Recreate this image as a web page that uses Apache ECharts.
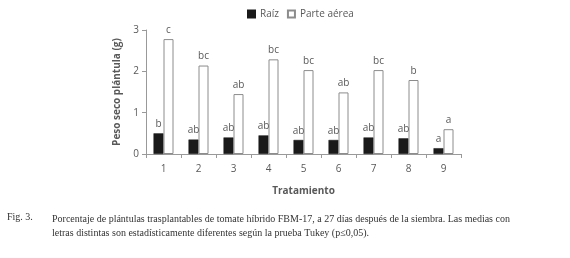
<!DOCTYPE html>
<html>
<head>
<meta charset="utf-8">
<script src="https://cdn.jsdelivr.net/npm/echarts@6/dist/echarts.min.js"></script>
<style>
html, body { margin: 0; padding: 0; background: #fff; }
#chart { width: 570px; height: 258px; }
</style>
</head>
<body>
<div id="chart"></div>
<script>
var categories = ['1', '2', '3', '4', '5', '6', '7', '8', '9'];
var raizValues = [0.50, 0.35, 0.40, 0.45, 0.34, 0.34, 0.40, 0.38, 0.14];
var aereaValues = [2.78, 2.14, 1.45, 2.29, 2.03, 1.49, 2.03, 1.79, 0.60];
var raizLetters = ['b', 'ab', 'ab', 'ab', 'ab', 'ab', 'ab', 'ab', 'a'];
var aereaLetters = ['c', 'bc', 'ab', 'bc', 'bc', 'ab', 'bc', 'b', 'a'];

var axisFont = '"Open Sans", "Noto Sans", sans-serif';
var textGray = '#595959';

var myChart = echarts.init(document.getElementById('chart'));
myChart.setOption({
    animation: false,
    grid: {
        left: 146,
        right: 109,
        top: 30,
        bottom: 104
    },
    legend: {
        top: 4,
        left: 242,
        itemWidth: 7,
        itemHeight: 7,
        itemGap: 8,
        textStyle: { color: textGray, fontSize: 10, fontFamily: axisFont },
        data: [
            { name: 'Raíz', icon: 'rect' },
            { name: 'Parte aérea', icon: 'rect' }
        ]
    },
    xAxis: {
        type: 'category',
        data: categories,
        name: 'Tratamiento',
        nameLocation: 'middle',
        nameGap: 32,
        nameTextStyle: { color: textGray, fontSize: 10, fontWeight: 'bold', fontFamily: axisFont },
        axisLine: { lineStyle: { color: '#999' } },
        axisTick: { show: true, alignWithLabel: false, length: 4, lineStyle: { color: '#999' } },
        axisLabel: { color: textGray, fontSize: 10, fontFamily: axisFont, margin: 10 }
    },
    yAxis: {
        type: 'value',
        min: 0,
        max: 3,
        interval: 1,
        name: 'Peso seco plántula (g)',
        nameLocation: 'middle',
        nameGap: 24,
        nameTextStyle: { color: textGray, fontSize: 10, fontWeight: 'bold', fontFamily: axisFont },
        axisLine: { show: true, lineStyle: { color: '#999' } },
        axisTick: { show: true, length: 4, lineStyle: { color: '#999' } },
        axisLabel: { color: textGray, fontSize: 10, fontFamily: axisFont, margin: 7 },
        splitLine: { show: false }
    },
    series: [
        {
            name: 'Raíz',
            type: 'bar',
            data: raizValues,
            barWidth: 10,
            barGap: '0%',
            itemStyle: { color: '#1a1a1a', borderColor: '#1a1a1a', borderWidth: 0.5 },
            label: {
                show: true,
                position: 'top',
                distance: 4,
                color: textGray,
                fontSize: 10,
                fontFamily: axisFont,
                formatter: function (p) { return raizLetters[p.dataIndex]; }
            }
        },
        {
            name: 'Parte aérea',
            type: 'bar',
            data: aereaValues,
            barWidth: 10,
            barGap: '0%',
            itemStyle: { color: '#ffffff', borderColor: '#8c8c8c', borderWidth: 1 },
            label: {
                show: true,
                position: 'top',
                distance: 4,
                color: textGray,
                fontSize: 10,
                fontFamily: axisFont,
                formatter: function (p) { return aereaLetters[p.dataIndex]; }
            }
        }
    ],
    graphic: [
        {
            type: 'text',
            left: 7,
            top: 212,
            style: { text: 'Fig. 3.', fontSize: 10, fontFamily: '"Liberation Serif", serif', fill: '#333' }
        },
        {
            type: 'text',
            left: 52,
            top: 212,
            style: {
                text: 'Porcentaje de plántulas trasplantables de tomate híbrido FBM-17, a 27 días después de la siembra. Las medias con\nletras distintas son estadísticamente diferentes según la prueba Tukey (p≤0,05).',
                fontSize: 10,
                lineHeight: 14,
                fontFamily: '"Liberation Serif", serif',
                fill: '#333'
            }
        }
    ]
});
</script>
</body>
</html>
